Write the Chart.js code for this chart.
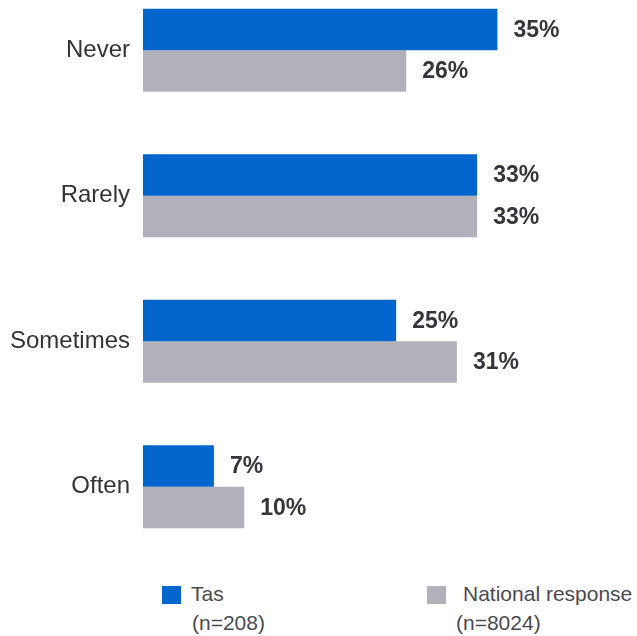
<!DOCTYPE html>
<html lang="en">
<head>
    <meta charset="UTF-8">
    <title>Frequency - Tas vs National</title>
    <style>
        body {
            margin: 0;
            background: #ffffff;
            font-family: Arial, "Liberation Sans", sans-serif;
        }

        .page {
            position: relative;
            width: 637px;
            height: 636px;
            overflow: hidden;
        }

        .chart-box {
            position: absolute;
            left: 0;
            top: -42px;
            width: 637px;
            height: 621px;
        }

        .legend-item {
            position: absolute;
            font-size: 21px;
            color: #4a4a52;
            line-height: 28px;
        }

        .swatch {
            position: absolute;
            width: 19px;
            height: 18px;
        }
    </style>
    <script src="https://cdn.jsdelivr.net/npm/chart.js"></script>
</head>
<body>
    <div class="page">
        <div class="chart-box">
            <canvas id="freqChart"></canvas>
        </div>

        <div class="swatch" style="left:162px; top:586px; background:#0066cc;"></div>
        <div class="legend-item" style="left:191px; top:580px;">Tas</div>
        <div class="legend-item" style="left:192px; top:609px;">(n=208)</div>

        <div class="swatch" style="left:427px; top:586px; background:#b1b1bb;"></div>
        <div class="legend-item" style="left:463px; top:580px;">National response</div>
        <div class="legend-item" style="left:456px; top:609px;">(n=8024)</div>
    </div>

    <script>
        const categories = ['Never', 'Rarely', 'Sometimes', 'Often'];
        const tasValues = [35, 33, 25, 7];
        const nationalValues = [26, 33, 31, 10];

        // value labels at the end of each bar
        const valueLabels = {
            id: 'valueLabels',
            afterDatasetsDraw(chart) {
                const ctx = chart.ctx;
                ctx.save();
                ctx.font = 'bold 23px Arial, "Liberation Sans", sans-serif';
                ctx.fillStyle = '#35353d';
                ctx.textAlign = 'left';
                ctx.textBaseline = 'middle';
                chart.data.datasets.forEach((ds, i) => {
                    chart.getDatasetMeta(i).data.forEach((bar, j) => {
                        ctx.fillText(ds.data[j] + '%', bar.x + 16, bar.y + 1);
                    });
                });
                ctx.restore();
            }
        };

        const ctx = document.getElementById('freqChart').getContext('2d');
        new Chart(ctx, {
            type: 'bar',
            data: {
                labels: categories,
                datasets: [{
                    label: 'Tas',
                    data: tasValues,
                    backgroundColor: '#0066cc',
                    barPercentage: 1,
                    categoryPercentage: 0.57
                }, {
                    label: 'National response',
                    data: nationalValues,
                    backgroundColor: '#b1b1bb',
                    barPercentage: 1,
                    categoryPercentage: 0.57
                }]
            },
            options: {
                indexAxis: 'y',
                responsive: true,
                maintainAspectRatio: false,
                animation: false,
                layout: {
                    padding: { left: 0, right: 89, top: 0, bottom: 0 }
                },
                plugins: {
                    legend: { display: false },
                    tooltip: { enabled: false }
                },
                scales: {
                    x: {
                        display: false,
                        min: 0,
                        max: 40
                    },
                    y: {
                        grid: { display: false },
                        border: { display: false },
                        ticks: {
                            padding: 5,
                            color: '#33333b',
                            font: { size: 24, family: 'Arial, "Liberation Sans", sans-serif' }
                        },
                        afterFit(scale) {
                            scale.width = 143;
                        }
                    }
                }
            },
            plugins: [valueLabels]
        });
    </script>
</body>
</html>
